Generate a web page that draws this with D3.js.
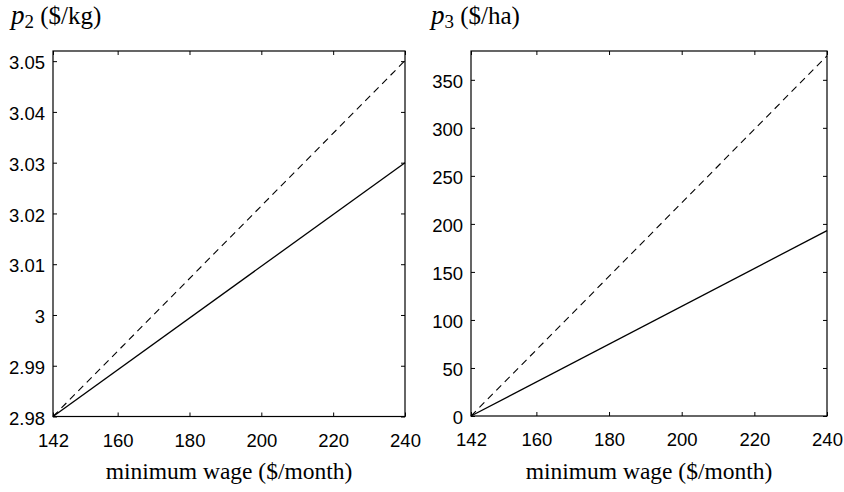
<!DOCTYPE html>
<html>
<head>
<meta charset="utf-8">
<script src="https://cdn.jsdelivr.net/npm/d3@7"></script>
<style>
  html, body { margin: 0; padding: 0; background: #fff; }
  svg { display: block; }
</style>
</head>
<body>
<svg id="chart" width="844" height="492"></svg>
<script>
// Minimum wage range (x) shared by both panels
const wageTicks = [142, 160, 180, 200, 220, 240];
const wageRange = [142, 240];

// Panel 1: p2 price ($/kg)
const p2Ticks = [2.98, 2.99, 3, 3.01, 3.02, 3.03, 3.04, 3.05];
const p2TickLabels = ["2.98", "2.99", "3", "3.01", "3.02", "3.03", "3.04", "3.05"];
const p2Domain = [2.98, 3.052];
const p2Solid = [[142, 2.98], [240, 3.030]];
const p2Dashed = [[142, 2.98], [240, 3.0501]];

// Panel 2: p3 price ($/ha)
const p3Ticks = [0, 50, 100, 150, 200, 250, 300, 350];
const p3TickLabels = ["0", "50", "100", "150", "200", "250", "300", "350"];
const p3Domain = [0, 380];
const p3Solid = [[142, 0], [240, 193]];
const p3Dashed = [[142, 0], [240, 375]];

const svg = d3.select("#chart");

const panels = [
  { left: 53, right: 405, top: 51, bottom: 416.5, yDomain: p2Domain, yTicks: p2Ticks, yLabels: p2TickLabels,
    solid: p2Solid, dashed: p2Dashed, sub: "2", unit: "($/kg)", titleX: 11 },
  { left: 471, right: 827, top: 51, bottom: 416, yDomain: p3Domain, yTicks: p3Ticks, yLabels: p3TickLabels,
    solid: p3Solid, dashed: p3Dashed, sub: "3", unit: "($/ha)", titleX: 431 }
];

const tickLen = 4;
const sans = "'Liberation Sans', Arial, Helvetica, sans-serif";
const serif = "'Liberation Serif', 'Times New Roman', serif";

panels.forEach(p => {
  const x = d3.scaleLinear().domain(wageRange).range([p.left, p.right]);
  const y = d3.scaleLinear().domain(p.yDomain).range([p.bottom, p.top]);
  const g = svg.append("g");

  // Bottom axis with labels, ticks pointing inward
  const gx = g.append("g").attr("transform", `translate(0,${p.bottom})`)
    .call(d3.axisBottom(x).tickValues(wageTicks).tickSize(-tickLen).tickFormat(d3.format("d")));
  gx.selectAll(".tick text").attr("y", 30).attr("dy", null);
  // Top axis mirror (ticks only)
  const gxt = g.append("g").attr("transform", `translate(0,${p.top})`)
    .call(d3.axisTop(x).tickValues(wageTicks).tickSize(-tickLen).tickFormat(""));
  // Left axis with labels
  const gy = g.append("g").attr("transform", `translate(${p.left},0)`)
    .call(d3.axisLeft(y).tickValues(p.yTicks).tickSize(-tickLen).tickPadding(8)
      .tickFormat((d, i) => p.yLabels[i]));
  gy.selectAll(".tick text").attr("dy", "0.42em");
  // Right axis mirror (ticks only)
  const gyr = g.append("g").attr("transform", `translate(${p.right},0)`)
    .call(d3.axisRight(y).tickValues(p.yTicks).tickSize(-tickLen).tickFormat(""));

  [gx, gxt, gy, gyr].forEach(a => {
    a.select(".domain").remove();
    a.selectAll(".tick line").attr("stroke", "#000").attr("stroke-width", 1);
    a.selectAll("text").attr("fill", "#000")
      .style("font-family", sans)
      .style("font-size", "18.5px");
  });

  // Plot frame
  g.append("rect")
    .attr("x", p.left).attr("y", p.top)
    .attr("width", p.right - p.left).attr("height", p.bottom - p.top)
    .attr("fill", "none").attr("stroke", "#000").attr("stroke-width", 1.2);

  const line = d3.line().x(d => x(d[0])).y(d => y(d[1]));

  g.append("path").datum(p.dashed).attr("d", line)
    .attr("fill", "none").attr("stroke", "#000").attr("stroke-width", 1.1)
    .attr("stroke-dasharray", "7,5");
  g.append("path").datum(p.solid).attr("d", line)
    .attr("fill", "none").attr("stroke", "#000").attr("stroke-width", 1.3);

  // Title: italic p with subscript, then unit
  const title = g.append("text").attr("x", p.titleX).attr("y", 24)
    .style("font-family", serif).attr("fill", "#000");
  title.append("tspan").text("p").style("font-style", "italic").style("font-size", "27px");
  title.append("tspan").text(p.sub).attr("dy", 4).style("font-size", "19px");
  title.append("tspan").text(" " + p.unit).attr("dy", -4).style("font-size", "25px");

  // X axis label
  g.append("text")
    .attr("x", (p.left + p.right) / 2).attr("y", 479)
    .attr("text-anchor", "middle")
    .style("font-family", serif)
    .style("font-size", "23.5px").attr("fill", "#000")
    .text("minimum wage ($/month)");
});
</script>
</body>
</html>
